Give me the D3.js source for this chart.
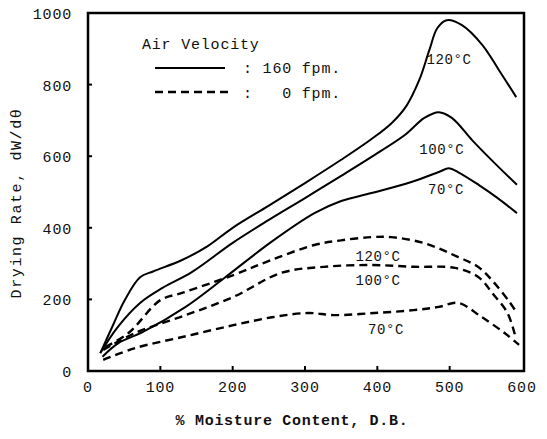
<html>
<head>
  <script src="https://d3js.org/d3.v7.min.js"></script>
  <style>
    body { margin: 0; background: #fff; }
    text { font-family: "Liberation Mono", "DejaVu Sans Mono", monospace; fill: #111; }
  </style>
</head>
<body>
  <svg id="chart" width="547" height="439"></svg>
  <script>

    // moisture content (% d.b.) and drying rate
    const solid120x = [17, 35, 50, 72, 90, 130, 165, 200, 250, 300, 350, 392, 420, 440, 458, 472, 483, 496, 517, 545, 568, 592];
    const solid120y = [50, 130, 195, 262, 278, 310, 348, 400, 462, 525, 590, 648, 693, 740, 813, 897, 958, 980, 966, 911, 841, 765];

    const solid100x = [17, 40, 72, 103, 144, 200, 250, 300, 350, 392, 438, 465, 485, 503, 531, 558, 593];
    const solid100y = [50, 120, 190, 232, 277, 358, 422, 483, 545, 598, 659, 707, 723, 707, 645, 589, 520];

    const solid70x = [20, 42, 76, 135, 188, 253, 313, 350, 392, 447, 485, 499, 512, 540, 565, 593];
    const solid70y = [40, 78, 109, 179, 259, 360, 441, 475, 497, 528, 556, 566, 555, 520, 485, 441];

    const dash120x = [24, 56, 100, 130, 201, 253, 313, 350, 392, 419, 465, 512, 540, 560, 583, 593];
    const dash120y = [67, 106, 198, 218, 268, 310, 352, 365, 374, 374, 357, 318, 290, 250, 192, 162];

    const dash100x = [21, 65, 135, 201, 267, 326, 392, 451, 507, 540, 560, 580, 591];
    const dash100y = [59, 106, 156, 207, 274, 291, 296, 291, 288, 262, 215, 162, 95];

    const dash70x = [21, 65, 135, 201, 257, 304, 340, 396, 450, 485, 512, 544, 576, 596];
    const dash70y = [31, 64, 97, 128, 151, 162, 156, 162, 170, 179, 190, 151, 106, 73];

    const xTicks = [0, 100, 200, 300, 400, 500, 600];
    const yTicks = [0, 200, 400, 600, 800, 1000];

    const series = [
      { xs: solid120x, ys: solid120y, dashed: false },
      { xs: solid100x, ys: solid100y, dashed: false },
      { xs: solid70x, ys: solid70y, dashed: false },
      { xs: dash120x, ys: dash120y, dashed: true },
      { xs: dash100x, ys: dash100y, dashed: true },
      { xs: dash70x, ys: dash70y, dashed: true }
    ];

    // curve labels, placed in data units
    const curveLabels = [
      { t: "120°C", x: 499, y: 869 },
      { t: "100°C", x: 489, y: 617 },
      { t: "70°C", x: 495, y: 506 },
      { t: "120°C", x: 401, y: 318 },
      { t: "100°C", x: 401, y: 251 },
      { t: "70°C", x: 412, y: 114 }
    ];

    const svg = d3.select("#chart");
    const x = d3.scaleLinear().domain([0, 600]).range([88, 522]);
    const y = d3.scaleLinear().domain([0, 1000]).range([371, 13]);

    // frame
    svg.append("rect")
      .attr("x", 88).attr("y", 13)
      .attr("width", 436).attr("height", 358)
      .attr("fill", "none")
      .attr("stroke", "#000")
      .attr("stroke-width", 2.5);

    // inward ticks
    svg.selectAll(".xt").data(xTicks.slice(1, -1))
      .join("line")
      .attr("x1", d => x(d)).attr("x2", d => x(d))
      .attr("y1", y(0)).attr("y2", y(0) - 5)
      .attr("stroke", "#000").attr("stroke-width", 2);

    svg.selectAll(".yt").data(yTicks.slice(1, -1))
      .join("line")
      .attr("x1", x(0)).attr("x2", x(0) + 4)
      .attr("y1", d => y(d)).attr("y2", d => y(d))
      .attr("stroke", "#000").attr("stroke-width", 2);

    // tick labels
    svg.selectAll(".xl").data(xTicks)
      .join("text")
      .attr("x", d => x(d))
      .attr("y", 388)
      .attr("text-anchor", "middle")
      .attr("dominant-baseline", "middle")
      .style("font-size", "15px")
      .style("letter-spacing", "0.8px")
      .text(d => d);

    svg.selectAll(".yl").data(yTicks)
      .join("text")
      .attr("x", 72)
      .attr("y", d => y(d) + 2)
      .attr("text-anchor", "end")
      .attr("dominant-baseline", "middle")
      .style("font-size", "15px")
      .style("letter-spacing", "0.8px")
      .text(d => d);

    // axis titles
    svg.append("text")
      .attr("x", 292).attr("y", 421)
      .attr("text-anchor", "middle")
      .attr("dominant-baseline", "middle")
      .style("font-size", "15px")
      .style("font-weight", "bold")
      .style("letter-spacing", "0.7px")
      .text("% Moisture Content, D.B.");

    svg.append("text")
      .attr("transform", "translate(17,203) rotate(-90)")
      .attr("text-anchor", "middle")
      .attr("dominant-baseline", "middle")
      .style("font-size", "15px")
      .style("letter-spacing", "1.6px")
      .text("Drying Rate, dW/dθ");

    // curves
    const line = d3.line()
      .x(d => x(d[0]))
      .y(d => y(d[1]))
      .curve(d3.curveCatmullRom.alpha(0.5));

    svg.selectAll(".curve").data(series)
      .join("path")
      .attr("class", "curve")
      .attr("d", s => line(s.xs.map((v, i) => [v, s.ys[i]])))
      .attr("fill", "none")
      .attr("stroke", "#000")
      .attr("stroke-width", s => s.dashed ? 2.4 : 2)
      .attr("stroke-dasharray", s => s.dashed ? "8,5" : null);

    svg.selectAll(".clab").data(curveLabels)
      .join("text")
      .attr("x", d => x(d.x))
      .attr("y", d => y(d.y))
      .attr("text-anchor", "middle")
      .attr("dominant-baseline", "middle")
      .style("font-size", "14px")
      .style("letter-spacing", "0.6px")
      .text(d => d.t);

    // legend
    const legend = svg.append("g");
    legend.append("text")
      .attr("x", 142).attr("y", 45)
      .attr("dominant-baseline", "middle")
      .style("font-size", "15px")
      .style("letter-spacing", "0.8px")
      .text("Air Velocity");

    legend.append("line")
      .attr("x1", 155).attr("x2", 225).attr("y1", 68).attr("y2", 68)
      .attr("stroke", "#000").attr("stroke-width", 2);
    legend.append("text")
      .attr("x", 243).attr("y", 69)
      .attr("dominant-baseline", "middle")
      .style("font-size", "15px")
      .style("letter-spacing", "0.8px")
      .style("white-space", "pre")
      .text(": 160 fpm.");

    legend.append("line")
      .attr("x1", 155).attr("x2", 230).attr("y1", 92).attr("y2", 92)
      .attr("stroke", "#000").attr("stroke-width", 2.4)
      .attr("stroke-dasharray", "8,5");
    legend.append("text")
      .attr("x", 243).attr("y", 94)
      .attr("dominant-baseline", "middle")
      .style("font-size", "15px")
      .style("letter-spacing", "0.8px")
      .style("white-space", "pre")
      .text(":   0 fpm.");

  </script>
</body>
</html>
